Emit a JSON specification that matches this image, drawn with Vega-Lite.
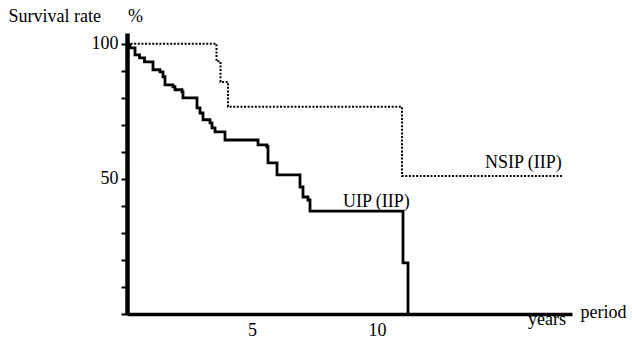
{
  "$schema": "https://vega.github.io/schema/vega-lite/v6.json",
  "autosize": {"type": "none"},
  "width": 445,
  "height": 281,
  "padding": {"left": 127, "top": 33, "right": 60, "bottom": 27},
  "background": "white",
  "config": {
    "view": {"stroke": null},
    "font": "Liberation Serif",
    "axis": {"labelFont": "Liberation Serif", "titleFont": "Liberation Serif", "labelColor": "black", "titleColor": "black", "domainColor": "black", "tickColor": "black", "grid": false, "titleFontWeight": "normal", "labelOverlap": false, "labelFlush": false}
  },
  "datasets": {
    "curves": [
      {"series": "UIP", "t": 0, "s": 100},
      {"series": "UIP", "t": 0.12, "s": 98.5},
      {"series": "UIP", "t": 0.32, "s": 95.9},
      {"series": "UIP", "t": 0.5, "s": 94.8},
      {"series": "UIP", "t": 0.7, "s": 93.3},
      {"series": "UIP", "t": 1.04, "s": 90.4},
      {"series": "UIP", "t": 1.32, "s": 89.6},
      {"series": "UIP", "t": 1.44, "s": 87.8},
      {"series": "UIP", "t": 1.52, "s": 84.8},
      {"series": "UIP", "t": 1.84, "s": 84.1},
      {"series": "UIP", "t": 1.92, "s": 83.0},
      {"series": "UIP", "t": 2.2, "s": 82.2},
      {"series": "UIP", "t": 2.24, "s": 80.0},
      {"series": "UIP", "t": 2.8, "s": 76.3},
      {"series": "UIP", "t": 2.92, "s": 74.4},
      {"series": "UIP", "t": 3.04, "s": 71.9},
      {"series": "UIP", "t": 3.32, "s": 70.7},
      {"series": "UIP", "t": 3.4, "s": 68.9},
      {"series": "UIP", "t": 3.52, "s": 67.4},
      {"series": "UIP", "t": 3.92, "s": 64.4},
      {"series": "UIP", "t": 5.24, "s": 62.6},
      {"series": "UIP", "t": 5.6, "s": 61.9},
      {"series": "UIP", "t": 5.64, "s": 55.9},
      {"series": "UIP", "t": 6.0, "s": 51.5},
      {"series": "UIP", "t": 6.92, "s": 47.0},
      {"series": "UIP", "t": 7.04, "s": 43.3},
      {"series": "UIP", "t": 7.24, "s": 42.2},
      {"series": "UIP", "t": 7.32, "s": 38.1},
      {"series": "UIP", "t": 11.04, "s": 18.9},
      {"series": "UIP", "t": 11.24, "s": 0},
      {"series": "NSIP", "t": 0, "s": 100},
      {"series": "NSIP", "t": 3.58, "s": 93.5},
      {"series": "NSIP", "t": 3.74, "s": 85.9},
      {"series": "NSIP", "t": 4.04, "s": 76.7},
      {"series": "NSIP", "t": 11.0, "s": 51.1},
      {"series": "NSIP", "t": 17.4, "s": 51.1}
    ],
    "labels": [
      {"t": 14.32, "s": 54.1, "text": "NSIP (IIP)"},
      {"t": 8.64, "s": 39.6, "text": "UIP (IIP)"},
      {"t": 16.04, "s": -4.1, "text": "years"}
    ],
    "xticks": [
      {"t": 1}, {"t": 2}, {"t": 3}, {"t": 4}, {"t": 5}, {"t": 6}, {"t": 7}, {"t": 8}, {"t": 9},
      {"t": 10}, {"t": 11}, {"t": 12}, {"t": 13}, {"t": 14}, {"t": 15}, {"t": 16}, {"t": 17}
    ]
  },
  "encoding": {
    "x": {
      "field": "t", "type": "quantitative",
      "scale": {"domain": [0, 17.8], "nice": false, "zero": false},
      "axis": {
        "title": "period", "titleFontSize": 18, "titleAnchor": "start", "titleAlign": "left",
        "titleBaseline": "alphabetic", "titleX": 453, "titleY": 3,
        "values": [5, 10],
        "labelFontSize": 18, "labelPadding": 7, "labelBaseline": "top",
        "ticks": false, "domainWidth": 3.5
      }
    },
    "y": {
      "field": "s", "type": "quantitative",
      "scale": {"domain": [0, 104], "nice": false},
      "axis": {
        "title": "Survival rate\u00a0\u00a0\u00a0\u00a0\u00a0\u00a0%", "titleFontSize": 18, "titleAngle": 0,
        "titleAlign": "left", "titleBaseline": "alphabetic", "titleX": -119, "titleY": -12,
        "values": [0,10,20,30,40,50,60,70,80,90,100],
        "labelExpr": "datum.value == 50 || datum.value == 100 ? datum.label : ''",
        "labelFontSize": 18, "labelPadding": 3,
        "tickSize": 6, "tickWidth": 2, "domainWidth": 4.5
      }
    }
  },
  "layer": [
    {
      "data": {"name": "curves"},
      "mark": {"type": "line", "interpolate": "step-after", "clip": false},
      "encoding": {
        "detail": {"field": "series"},
        "color": {"field": "series", "type": "nominal", "scale": {"domain": ["NSIP", "UIP"], "range": ["black", "black"]}, "legend": null},
        "strokeDash": {"field": "series", "type": "nominal", "scale": {"domain": ["NSIP", "UIP"], "range": [[2, 1.6], [1, 0]]}, "legend": null},
        "size": {"field": "series", "type": "nominal", "scale": {"domain": ["NSIP", "UIP"], "range": [2, 2.8]}, "legend": null}
      }
    },
    {
      "data": {"name": "xticks"},
      "mark": {"type": "rule", "color": "black", "strokeWidth": 2, "clip": false},
      "encoding": {
        "y": {"datum": 0},
        "y2": {"datum": 2.6}
      }
    },
    {
      "data": {"name": "labels"},
      "mark": {"type": "text", "align": "left", "baseline": "alphabetic", "font": "Liberation Serif", "fontSize": 18, "color": "black", "clip": false},
      "encoding": {
        "text": {"field": "text"}
      }
    }
  ]
}
